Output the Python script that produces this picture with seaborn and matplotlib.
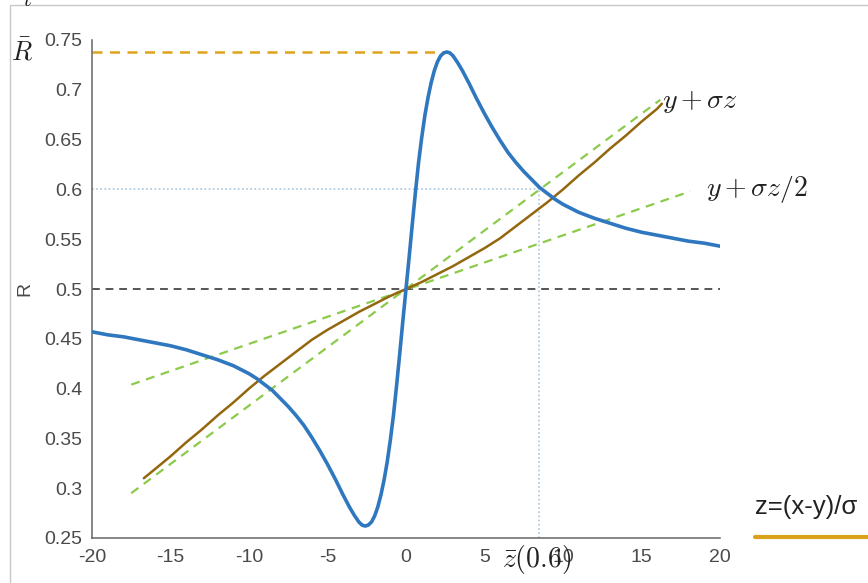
import numpy as np
import pandas as pd
import matplotlib
matplotlib.use("Agg")
import matplotlib.pyplot as plt
from matplotlib.lines import Line2D
from matplotlib.patches import Rectangle
import seaborn as sns

# ---- data ----
blue_z = [-20, -19, -18, -17, -16, -15, -14, -13, -12, -11, -10, -9.5, -9, -8.5, -8, -7.5,
          -7, -6.5, -6, -5.5, -5, -4.5, -4, -3.6, -3.3, -3.0, -2.8, -2.6, -2.4, -2.2, -2.0,
          -1.8, -1.6, -1.4, -1.2, -1.0, -0.8, -0.6, -0.4, -0.2,
          0, 0.2, 0.4, 0.6, 0.8, 1.0, 1.2, 1.4, 1.6, 1.8, 2.0, 2.2, 2.4, 2.6, 2.8, 3.0,
          3.3, 3.6, 4.0, 4.5, 5.0, 5.5, 6.0, 6.5, 7.0, 7.5, 8.0, 8.5, 9.0, 9.5, 10,
          11, 12, 13, 14, 15, 16, 17, 18, 19, 20]
blue_R = [0.457, 0.454, 0.452, 0.449, 0.446, 0.443, 0.439, 0.434, 0.429, 0.423, 0.415,
          0.410, 0.404, 0.398, 0.390, 0.382, 0.373, 0.363, 0.351, 0.338, 0.324, 0.309,
          0.293, 0.281, 0.273, 0.266, 0.263, 0.262, 0.263, 0.266, 0.272, 0.281, 0.293,
          0.308, 0.326, 0.348, 0.373, 0.403, 0.435, 0.468,
          0.500, 0.532, 0.565, 0.597, 0.627, 0.652, 0.674, 0.692, 0.707, 0.719, 0.728,
          0.734, 0.737, 0.738, 0.737, 0.734, 0.727, 0.719, 0.707, 0.691, 0.676, 0.662,
          0.649, 0.637, 0.627, 0.618, 0.610, 0.602, 0.596, 0.590, 0.585,
          0.577, 0.571, 0.566, 0.561, 0.557, 0.554, 0.551, 0.548, 0.546, 0.543]

brown_z = [-16.7, -16, -15, -14, -13, -12, -11, -10, -9, -8, -7, -6, -5, -4, -3, -2, -1,
           0, 1, 2, 3, 4, 5, 6, 7, 8, 9, 10, 11, 12, 13, 14, 15, 16, 16.3]
brown_R = [0.310, 0.319, 0.332, 0.346, 0.359, 0.373, 0.386, 0.400, 0.413, 0.425, 0.437,
           0.449, 0.459, 0.468, 0.477, 0.485, 0.493,
           0.500, 0.507, 0.515, 0.523, 0.532, 0.541, 0.551, 0.563, 0.575, 0.587, 0.600,
           0.614, 0.627, 0.641, 0.654, 0.668, 0.681, 0.686]

green1_z = [-17.5, 16.2]          # y + sigma z
green1_R = [0.295, 0.690]
green2_z = [-17.5, 18.1]          # y + sigma z / 2
green2_R = [0.404, 0.598]

peak_z, peak_R = 2.6, 0.738       # R-bar
zbar, R06 = 8.5, 0.60             # z-bar(0.6)
mid_R = 0.5

xticks = [-20, -15, -10, -5, 0, 5, 10, 15, 20]
yticks = [0.25, 0.3, 0.35, 0.4, 0.45, 0.5, 0.55, 0.6, 0.65, 0.7, 0.75]
ytick_labels = ["0.25", "0.3", "0.35", "0.4", "0.45", "0.5", "0.55", "0.6", "0.65", "0.7", "0.75"]

# ---- style ----
sns.set_style("white")
plt.rcParams["font.family"] = ["Liberation Sans", "DejaVu Sans"]
plt.rcParams["mathtext.fontset"] = "cm"

W, H = 868, 583
fig = plt.figure(figsize=(W / 100, H / 100), dpi=100)
ax = fig.add_axes([92 / W, 1 - 538 / H, (720 - 92) / W, (538 - 40) / H])

blue_c = "#2f78bf"
brown_c = "#94670f"
green_c = "#8cca4c"
gold_c = "#e0a21c"
lblue_c = "#a9c6de"
gray_c = "#555555"

# reference lines
ax.plot([-20, 20], [mid_R, mid_R], ls=(0, (4, 3)), color=gray_c, lw=1.4, zorder=1)
ax.plot([-20, peak_z], [peak_R, peak_R], ls=(0, (4, 3)), color=gold_c, lw=1.8, zorder=1)
ax.plot([-20, zbar], [R06, R06], ls=(0, (1, 1.5)), color=lblue_c, lw=1.2, zorder=1)
ax.plot([zbar, zbar], [0.25, R06], ls=(0, (1, 1.5)), color=lblue_c, lw=1.2, zorder=1)

sns.lineplot(x=green1_z, y=green1_R, ax=ax, color=green_c, lw=1.6, linestyle=(0, (4, 3)),
             sort=False, estimator=None, zorder=2)
sns.lineplot(x=green2_z, y=green2_R, ax=ax, color=green_c, lw=1.6, linestyle=(0, (4, 3)),
             sort=False, estimator=None, zorder=2)
sns.lineplot(x=brown_z, y=brown_R, ax=ax, color=brown_c, lw=1.8,
             sort=False, estimator=None, zorder=3)
sns.lineplot(x=blue_z, y=blue_R, ax=ax, color=blue_c, lw=2.6,
             sort=False, estimator=None, zorder=4)
for ln in ax.get_lines():
    ln.set_solid_joinstyle("round")
    ln.set_solid_capstyle("round")

ax.set_xlim(-20, 20)
ax.set_ylim(0.25, 0.75)
ax.set_xticks(xticks)
ax.set_xticklabels([str(t) for t in xticks])
ax.set_yticks(yticks)
ax.set_yticklabels(ytick_labels)
ax.tick_params(direction="in", length=4, width=1, colors="#555555",
               labelsize=14, labelcolor="#4a4a4a")
ax.tick_params(axis="y", pad=7)
ax.tick_params(axis="x", pad=8)
for s in ["top", "right"]:
    ax.spines[s].set_visible(False)
for s in ["left", "bottom"]:
    ax.spines[s].set_color("#666666")
    ax.spines[s].set_linewidth(1.1)
ax.set_xlabel("")
ax.set_ylabel("R", fontsize=14, color="#4a4a4a", labelpad=8)

# annotations
fig.text(11 / W, 1 - 52 / H, r"$\bar{R}$", fontsize=19, color="#222222", va="center", ha="left")
ax.text(16.3, 0.688, r"$y+\sigma z$", fontsize=20, color="#222222", va="center", ha="left")
ax.text(19.1, 0.600, r"$y+\sigma z/2$", fontsize=20, color="#222222", va="center", ha="left")
fig.text(502 / W, 1 - 560 / H, r"$\bar{z}(0.6)$", fontsize=20, color="#222222", va="center", ha="left")
fig.text(755 / W, 1 - 507 / H, "z=(x-y)/σ", fontsize=18.5, color="#222222", va="center", ha="left")
fig.add_artist(Line2D([755 / W, 1.0], [1 - 537 / H, 1 - 537 / H], color="#d9a21a", lw=3,
                      transform=fig.transFigure))
fig.add_artist(Rectangle((10 / W, -0.1), 1.2, 1 - 5 / H + 0.1, transform=fig.transFigure,
                         fill=False, edgecolor="#c8c8c8", lw=1))
fig.text(28 / W, 1 - 1 / H, r"$t$", fontsize=16, color="#222222", va="center", ha="center")

fig.savefig("out.png", dpi=100)
